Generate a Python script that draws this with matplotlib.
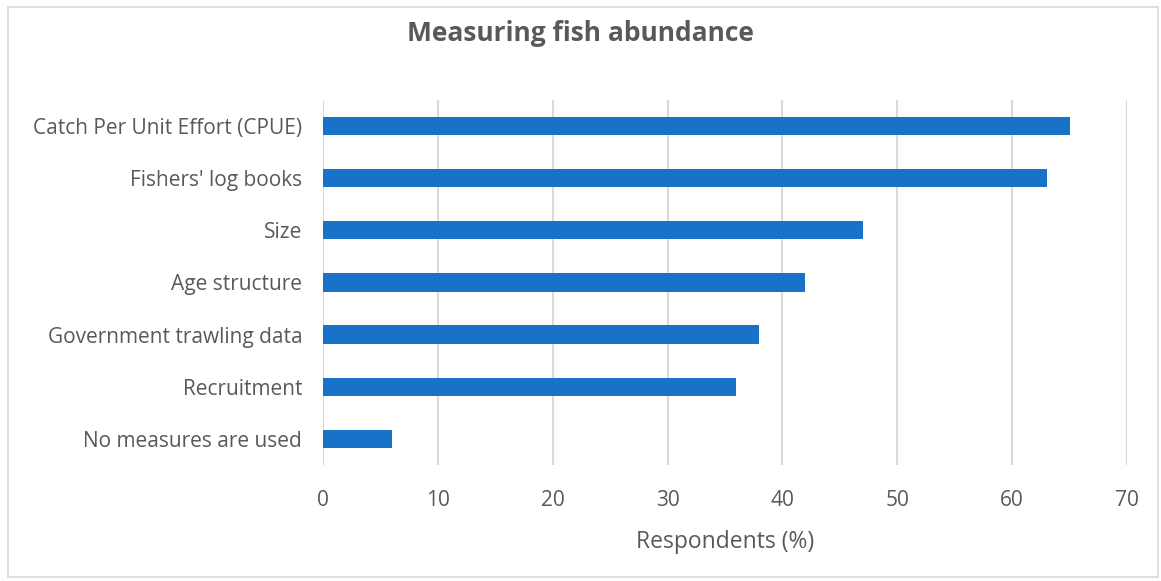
import matplotlib.pyplot as plt
from matplotlib.patches import Rectangle

plt.rcParams['font.family'] = ['Open Sans', 'DejaVu Sans']

categories = ['Catch Per Unit Effort (CPUE)', "Fishers' log books", 'Size',
              'Age structure', 'Government trawling data', 'Recruitment',
              'No measures are used']
respondents = [65, 63, 47, 42, 38, 36, 6]
xticks = [0, 10, 20, 30, 40, 50, 60, 70]

grey = '#595959'

fig = plt.figure(figsize=(11.61, 5.81), dpi=100)
ax = fig.add_axes([0.2782, 0.1997, 0.6925, 0.6282])

# outer chart frame
fig.patches.append(Rectangle((8 / 1161, 4 / 581), 1150 / 1161, 570 / 581,
                             transform=fig.transFigure, fill=False,
                             edgecolor='#D9D9D9', linewidth=1.2))

ypos = list(range(len(categories)))
ax.barh(ypos, respondents, height=0.35, color='#1772C8', zorder=3)
ax.set_ylim(len(categories) - 0.5, -0.5)
ax.set_xlim(0, 70)
ax.set_xticks(xticks)
ax.set_yticks(ypos)
ax.set_yticklabels(categories)

ax.grid(axis='x', color='#D9D9D9', linewidth=1.5, zorder=0)
for s in ax.spines.values():
    s.set_visible(False)
ax.tick_params(length=0, labelsize=15, colors=grey)
ax.tick_params(axis='y', pad=15)
ax.tick_params(axis='x', pad=18)

ax.set_xlabel('Respondents (%)', fontsize=16.5, color=grey, labelpad=14)
fig.text(0.5, 0.943, 'Measuring fish abundance', ha='center', va='center',
         fontsize=19, fontweight='bold', color=grey)

plt.savefig('out.png', dpi=100)
